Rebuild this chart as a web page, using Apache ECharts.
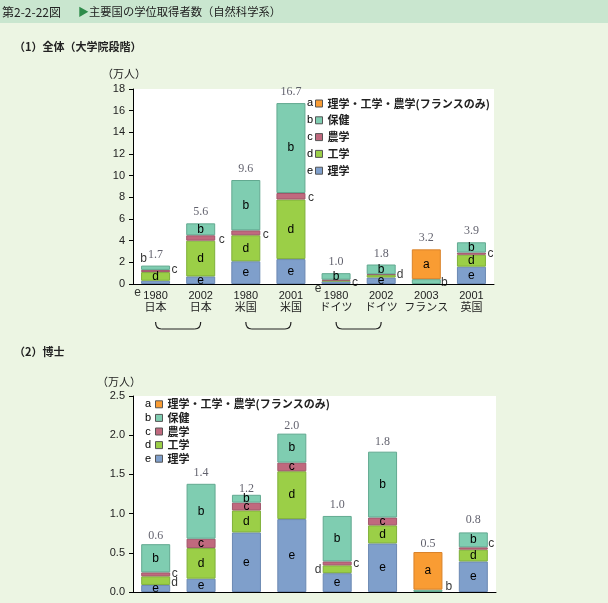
<!DOCTYPE html>
<html><head><meta charset="utf-8">
<script src="https://cdn.jsdelivr.net/npm/echarts@6/dist/echarts.min.js"></script>
<style>html,body{margin:0;padding:0;background:#ecf5e3}#c{width:608px;height:603px}</style>
</head><body><div id="c"></div>
<script>
// ---- data ----
const years = ['1980','2002','1980','2001','1980','2002','2003','2001'];
const countries = ['日本','日本','米国','米国','ドイツ','ドイツ','フランス','英国'];
const seriesNames = {a:'理学・工学・農学(フランスのみ)', b:'保健', c:'農学', d:'工学', e:'理学'};

// (1) 全体（大学院段階） 万人
const allA = [0, 0, 0, 0, 0, 0, 2.75, 0];
const allB = [0.4, 1.1, 4.65, 8.3, 0.6, 0.9, 0.45, 0.95];
const allC = [0.2, 0.5, 0.45, 0.6, 0.08, 0.05, 0, 0.2];
const allD = [0.8, 3.3, 2.4, 5.5, 0.07, 0.25, 0, 1.1];
const allE = [0.3, 0.7, 2.1, 2.3, 0.25, 0.6, 0, 1.6];
const allTotals = [1.7, 5.6, 9.6, 16.7, 1.0, 1.8, 3.2, 3.9];

// (2) 博士 万人
const phdA = [0, 0, 0, 0, 0, 0, 0.48, 0];
const phdB = [0.36, 0.70, 0.10, 0.37, 0.58, 0.84, 0.03, 0.19];
const phdC = [0.05, 0.12, 0.10, 0.11, 0.05, 0.10, 0, 0.03];
const phdD = [0.11, 0.39, 0.28, 0.61, 0.10, 0.23, 0, 0.15];
const phdE = [0.09, 0.17, 0.76, 0.93, 0.24, 0.62, 0, 0.39];
const phdTotals = [0.6, 1.4, 1.2, 2.0, 1.0, 1.8, 0.5, 0.8];

// segment letters shown inside bars
const insideAll = ['d','bde','bde','bde','b','be','a','bde'];
const insidePhd = ['be','bcde','bcde','bcde','be','bcde','a','bde'];
// letters placed beside bars: [bar index, segment, dx, dy]
const annoAll = [[0,'b',-12,-9],[0,'c',19,-1],[0,'e',-18,10],[1,'c',21,2],[2,'c',20,2],[3,'c',20,1],[4,'c',19,3],[4,'e',-18,6],[5,'d',19,-1],[6,'b',18,1],[7,'c',19,0]];
const annoPhd = [[0,'c',19,-1],[0,'d',19,2],[4,'d',-19,0],[4,'c',19,0],[6,'b',21,-4],[7,'c',18,-5]];

// ---- styles ----
const colors = {a:'#f99c33', b:'#7fcdb1', c:'#c0697e', d:'#9bcf47', e:'#7f9fcb'};
const borders = {a:'#d9822a', b:'#62a990', c:'#a0566a', d:'#7fb03a', e:'#6b88b2'};
const stackOrder = ['e','d','c','b','a'];
const categories = years.map((y,i)=>y+'\n'+countries[i]);

const sets = [
  {a:allA,b:allB,c:allC,d:allD,e:allE,totals:allTotals,inside:insideAll,anno:annoAll},
  {a:phdA,b:phdB,c:phdC,d:phdD,e:phdE,totals:phdTotals,inside:insidePhd,anno:annoPhd}
];
function mid(set,i,key){let base=0;for(const k of stackOrder){const v=set[k][i]||0;if(k===key)return base+v/2;base+=v;}return base;}

const chart = echarts.init(document.getElementById('c'),null,{renderer:'canvas'});
const series = [];
sets.forEach((set,g)=>{
  stackOrder.forEach(k=>{
    series.push({
      type:'bar', name:seriesNames[k], xAxisIndex:g, yAxisIndex:g, stack:'s'+g, barWidth:29,
      data:set[k].map(v=>v?v:'-'),
      itemStyle:{color:colors[k], borderColor:borders[k], borderWidth:1},
      label:{show:true, position:'inside', color:'#000', fontSize:12, fontFamily:'Liberation Sans',
        formatter:p=>set.inside[p.dataIndex].includes(k)?k:''},
      emphasis:{disabled:true}, silent:true
    });
  });
  series.push({
    type:'scatter', name:'total'+g, xAxisIndex:g, yAxisIndex:g, symbolSize:0, silent:true,
    data:set.totals.map((v,i)=>[i,v]),
    label:{show:true, position:'top', distance:g===0?5:3, fontFamily:'Liberation Serif', fontSize:12, color:'#3a3a48',
      formatter:p=>set.totals[p.dataIndex].toFixed(1)}
  });
  series.push({
    type:'scatter', name:'anno'+g, xAxisIndex:g, yAxisIndex:g, symbolSize:0, silent:true,
    data:set.anno.map(a=>({value:[a[0],mid(set,a[0],a[1])], label:{offset:[a[2],a[3]]}})),
    label:{show:true, position:'inside', color:'#000', fontSize:12, fontFamily:'Liberation Sans',
      formatter:p=>set.anno[p.dataIndex][1]}
  });
});

const legendData = ['a','b','c','d','e'].map(k=>seriesNames[k]);
const legendText = {fontSize:11, fontWeight:'bold', color:'#222', fontFamily:'Noto Sans CJK JP'};
const legendBase = {orient:'vertical', data:legendData, icon:'rect', itemWidth:7, itemHeight:7, padding:0,
  itemStyle:{borderColor:'#555', borderWidth:1}, selectedMode:false};

const yLabel = {color:'#222', fontSize:11, fontFamily:'Liberation Sans', margin:8};
const option = {
  animation:false,
  backgroundColor:'#ecf5e3',
  grid:[
    {left:133, right:114, top:89, bottom:319, show:true, backgroundColor:'#fff', borderWidth:0},
    {left:133, right:112, top:396, bottom:11, show:true, backgroundColor:'#fff', borderWidth:0}
  ],
  xAxis:[
    {type:'category', gridIndex:0, data:categories, axisLine:{lineStyle:{color:'#000', width:1}}, axisTick:{show:false},
      axisLabel:{color:'#222', fontSize:11, lineHeight:12, margin:6, fontFamily:'Liberation Sans, Noto Sans CJK JP', interval:0}},
    {type:'category', gridIndex:1, data:categories, axisLine:{lineStyle:{color:'#000', width:1}}, axisTick:{show:false}, axisLabel:{show:false}}
  ],
  yAxis:[
    {type:'value', gridIndex:0, min:0, max:18, interval:2, splitLine:{show:false},
      axisLine:{show:true, lineStyle:{color:'#000'}}, axisTick:{show:true, length:4, lineStyle:{color:'#000'}}, axisLabel:yLabel},
    {type:'value', gridIndex:1, min:0, max:2.5, interval:0.5, splitLine:{show:false},
      axisLine:{show:true, lineStyle:{color:'#000'}}, axisTick:{show:true, length:4, lineStyle:{color:'#000'}},
      axisLabel:Object.assign({formatter:v=>v.toFixed(1)}, yLabel)}
  ],
  legend:[
    Object.assign({}, legendBase, {left:315, top:96.5, itemGap:2.8, textStyle:Object.assign({}, legendText, {lineHeight:14})}),
    Object.assign({}, legendBase, {left:155, top:398.3, itemGap:1.6, textStyle:Object.assign({}, legendText, {lineHeight:12})})
  ],
  series:series
};
chart.setOption(option);

// graphics: headings, unit labels, legend letters, brackets
const txt = (text,x,y,font,fill,align)=>({type:'text', x:x, y:y, silent:true,
  style:{text:text, font:font, fill:fill||'#222', textAlign:align||'left', textVerticalAlign:'middle'}});
const els = [
  {type:'rect', shape:{x:0,y:0,width:608,height:23}, style:{fill:'#c9e6cf'}, silent:true, z:-1},
  txt('第2-2-22図', 2, 12, '12px "Noto Sans CJK JP"', '#222'),
  txt('▶', 78, 12, '11px "Noto Sans CJK JP"', '#2e8b4a'),
  txt('主要国の学位取得者数（自然科学系）', 89, 12, '11.3px "Noto Sans CJK JP"', '#222'),
  txt('（1）全体（大学院段階）', 14, 47, 'bold 11px "Noto Sans CJK JP"', '#222'),
  txt('（2）博士', 14, 352, 'bold 11px "Noto Sans CJK JP"', '#222'),
  txt('（万人）', 102, 74, '11px "Noto Sans CJK JP"', '#222'),
  txt('（万人）', 97, 382, '11px "Noto Sans CJK JP"', '#222')
];
['a','b','c','d','e'].forEach((k,j)=>{
  els.push(txt(k, 310, 103.3+16.8*j, '11px "Liberation Sans"', '#000', 'center'));
  els.push(txt(k, 148, 404.3+13.6*j, '11px "Liberation Sans"', '#000', 'center'));
});
const lineStyle = {fill:'none', stroke:'#222', lineWidth:1.2};
[[0,1],[2,3],[4,5]].forEach(pr=>{
  const x1 = chart.convertToPixel({xAxisIndex:0}, pr[0]);
  const x2 = chart.convertToPixel({xAxisIndex:0}, pr[1]);
  const yt=322, yb=329;
  els.push({type:'bezierCurve', silent:true, shape:{x1:x1, y1:yt, x2:x1+6, y2:yb, cpx1:x1, cpy1:yb}, style:lineStyle});
  els.push({type:'line', silent:true, shape:{x1:x1+6, y1:yb, x2:x2-6, y2:yb}, style:lineStyle});
  els.push({type:'bezierCurve', silent:true, shape:{x1:x2-6, y1:yb, x2:x2, y2:yt, cpx1:x2, cpy1:yb}, style:lineStyle});
});
chart.setOption({graphic:{elements:els}});
</script>
</body></html>
